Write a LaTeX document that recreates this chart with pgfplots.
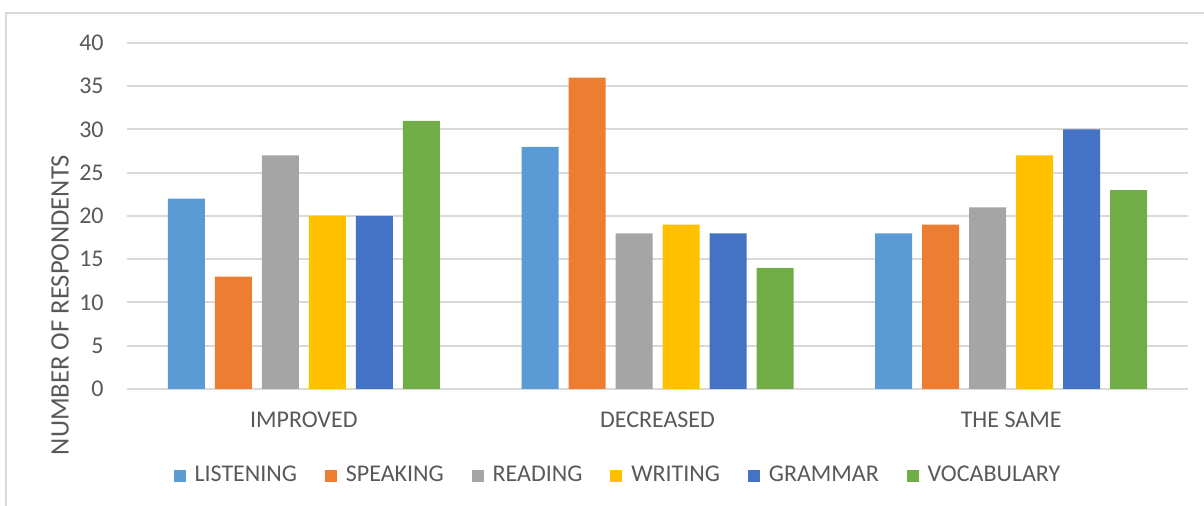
\documentclass[border=0pt]{standalone}
\usepackage{pgfplots}
\pgfplotsset{compat=1.18}
\usepackage{fontspec}
\setmainfont{Carlito}

\definecolor{cListen}{HTML}{5B9BD5}
\definecolor{cSpeak}{HTML}{ED7D31}
\definecolor{cRead}{HTML}{A5A5A5}
\definecolor{cWrite}{HTML}{FFC000}
\definecolor{cGram}{HTML}{4472C4}
\definecolor{cVocab}{HTML}{70AD47}
\definecolor{txt}{HTML}{595959}
\definecolor{gridc}{HTML}{D9D9D9}

\begin{document}
\begin{tikzpicture}[x=1pt,y=1pt]
\useasboundingbox (0,0) rectangle (602,253);
% chart frame
\draw[gridc, line width=0.8pt] (3,0) -- (3,246.5) -- (602,246.5);
\begin{axis}[
  at={(63.5pt,58.5pt)}, anchor=south west,
  scale only axis, width=530.5pt, height=173pt,
  xmin=-0.5, xmax=2.5, ymin=0, ymax=40,
  ytick={0,5,...,40},
  xtick=data, xticklabels={IMPROVED,DECREASED,THE SAME},
  ybar=5pt, bar width=18.5pt,
  axis x line*=bottom, axis y line*=left,
  x axis line style={gridc, line width=1pt, -},
  y axis line style={draw=none},
  major tick length=0pt,
  ymajorgrids, grid style={gridc, line width=1pt},
  ticklabel style={font=\fontsize{12}{14}\selectfont, text=txt},
  yticklabel style={inner sep=0pt, anchor=east, xshift=-11.5pt},
  xticklabel style={inner sep=0pt, anchor=north, yshift=-11.5pt},
  /pgf/number format/assume math mode=true,
  legend style={at={(axis description cs:0.4632,-0.2505)}, anchor=center,
    draw=none, fill=none, font=\fontsize{12}{14}\selectfont, text=txt,
    legend columns=-1,
    /tikz/every even column/.append style={column sep=12.4pt},
    /tikz/every odd column/.append style={column sep=3pt},
    nodes={inner sep=1.5pt}},
  legend image code/.code={\fill[#1, draw=none] (0pt,-3pt) rectangle (6pt,3pt);},
  clip=false,
]
\addplot[fill=cListen, draw=none] coordinates {(0,22) (1,28) (2,18)};
\addplot[fill=cSpeak, draw=none] coordinates {(0,13) (1,36) (2,19)};
\addplot[fill=cRead, draw=none] coordinates {(0,27) (1,18) (2,21)};
\addplot[fill=cWrite, draw=none] coordinates {(0,20) (1,19) (2,27)};
\addplot[fill=cGram, draw=none] coordinates {(0,20) (1,18) (2,30)};
\addplot[fill=cVocab, draw=none] coordinates {(0,31) (1,14) (2,23)};
\legend{LISTENING,SPEAKING,READING,WRITING,GRAMMAR,VOCABULARY}
\end{axis}
\node[rotate=90, text=txt, font=\fontsize{13.3}{15}\selectfont, inner sep=0pt] at (30,100.5) {NUMBER OF RESPONDENTS};
\end{tikzpicture}
\end{document}
